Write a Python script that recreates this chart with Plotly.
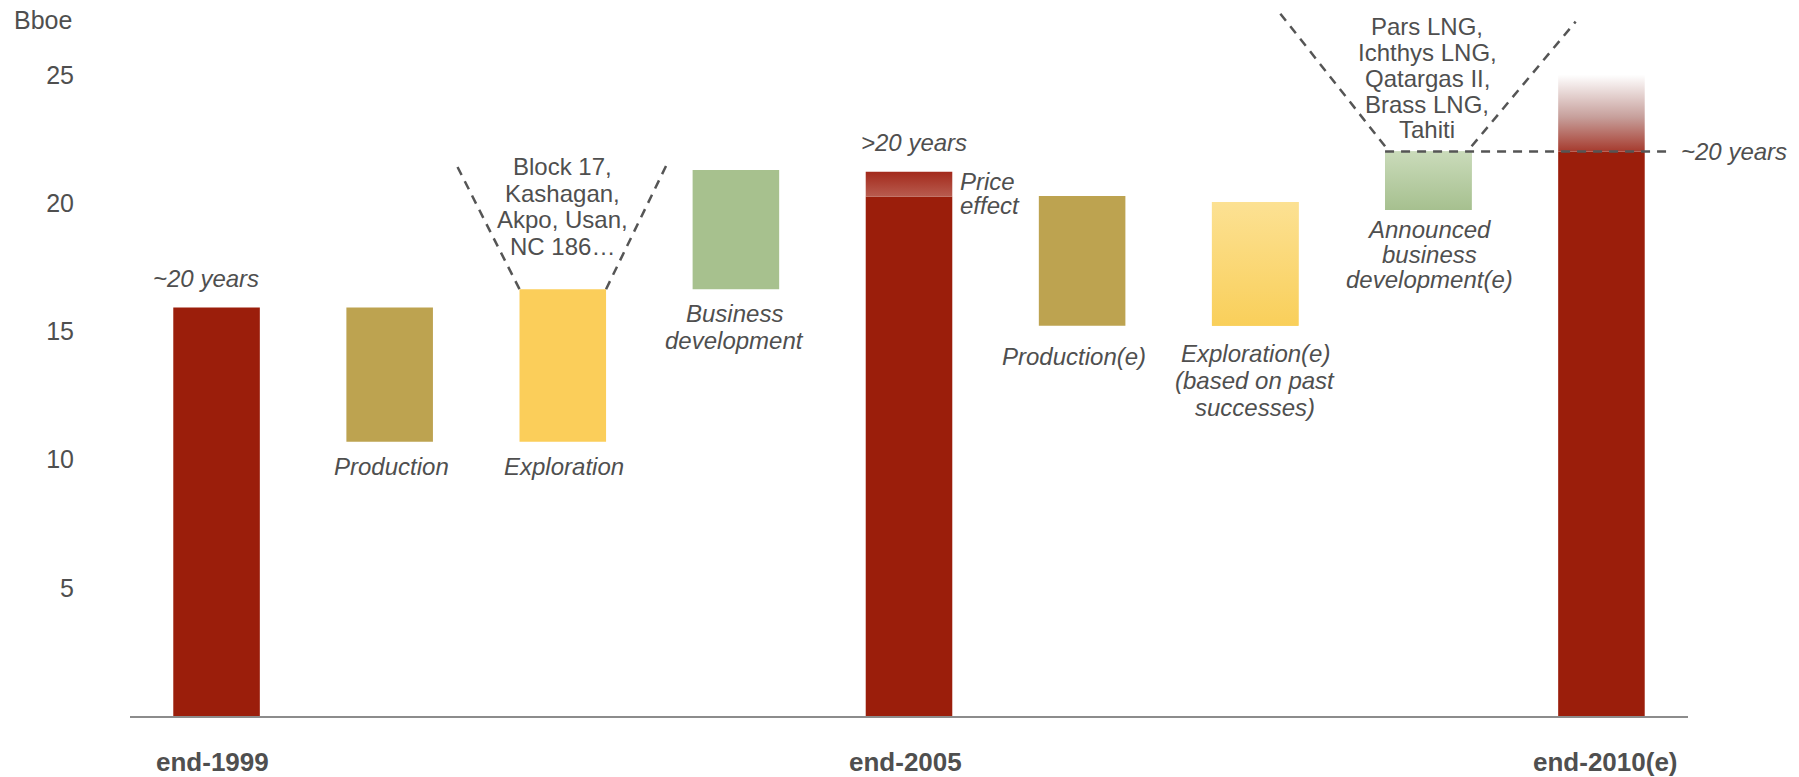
import plotly.graph_objects as go

# ---------------- data ----------------
categories = ["end-1999", "Production", "Exploration", "Business development",
              "end-2005", "Production(e)", "Exploration(e)",
              "Announced business development(e)", "end-2010(e)"]
bar_low = [0, 10.69, 10.69, 16.64, 0, 15.21, 15.21, 19.73, 0]
bar_high = [15.93, 15.93, 16.64, 21.29, 20.25, 20.27, 20.04, 22.01, 22.01]
price_effect = [20.25, 21.22]      # top band of end-2005
upside_2010 = [22.01, 25.0]        # faded top of end-2010(e)
y_ticks = [5, 10, 15, 20, 25]
x_labels = {0: "end-1999", 4: "end-2005", 8: "end-2010(e)"}

# ---------------- style ----------------
RED = "#9b1e0b"
OLIVE = "#bda350"
YELLOW = "#fbce5a"
GREEN = "#a7c18e"
TXT = "#4f4f4f"
FONT = "Arial, Liberation Sans, sans-serif"
BAR_W = 0.5
colors = [RED, OLIVE, YELLOW, GREEN, RED, OLIVE, "#f9cf5a", "#a6c08f", RED]

fig = go.Figure()
xs = list(range(len(categories)))
fig.add_trace(go.Bar(
    x=xs, y=[h - l for h, l in zip(bar_high, bar_low)], base=bar_low,
    width=BAR_W, marker=dict(color=colors, line=dict(width=0)),
    hoverinfo="skip", showlegend=False))


def grad_rect(i, lo, hi, scale):
    x0, x1 = i - BAR_W / 2, i + BAR_W / 2
    fig.add_trace(go.Scatter(
        x=[x0, x1, x1, x0, x0], y=[lo, lo, hi, hi, lo],
        mode="lines", line=dict(width=0), fill="toself",
        fillcolor=scale[0][1],
        fillgradient=dict(type="vertical", colorscale=scale, start=lo, stop=hi),
        hoverinfo="skip", showlegend=False))


grad_rect(4, price_effect[0], price_effect[1], [[0, "#b85c4f"], [1, "#a3291b"]])
grad_rect(6, bar_low[6], bar_high[6], [[0, "#f9cf5a"], [1, "#fce193"]])
grad_rect(7, bar_low[7], bar_high[7], [[0, "#a6c08f"], [1, "#cadbba"]])
grad_rect(8, upside_2010[0], upside_2010[1],
          [[0, "#a63b2e"], [0.45, "#c7a09c"], [1, "#ffffff"]])

# ---------------- dashed guides ----------------
DASH = dict(color="#555555", width=2.5, dash="9px,7px")


def seg(x0, y0, x1, y1):
    fig.add_shape(type="line", xref="x", yref="y", x0=x0, y0=y0, x1=x1, y1=y1,
                  line=DASH, layer="above")


# funnel above Exploration
seg(2 - BAR_W / 2, bar_high[2], 2 - BAR_W / 2 - 0.369, bar_high[2] + 4.91)
seg(2 + BAR_W / 2, bar_high[2], 2 + BAR_W / 2 + 0.357, bar_high[2] + 4.95)
# funnel above Announced business development
seg(7 - BAR_W / 2, bar_high[7] + 0.2, 7 - BAR_W / 2 - 0.62, bar_high[7] + 5.5)
seg(7 + BAR_W / 2, bar_high[7] + 0.2, 7 + BAR_W / 2 + 0.601, bar_high[7] + 5.06)
# ~20 years horizontal
seg(7 - BAR_W / 2, bar_high[7], 8.383, bar_high[7])


# ---------------- labels ----------------
def label(lines, x, y, shift0, step=26, anchor="center", italic=True,
          size=24, xshift=0, bold=False):
    for k, t in enumerate(lines):
        txt = t
        if italic:
            txt = f"<i>{txt}</i>"
        if bold:
            txt = f"<b>{txt}</b>"
        fig.add_annotation(x=x, y=y, xref="x", yref="y", text=txt,
                           showarrow=False, xanchor=anchor, yanchor="middle",
                           yshift=shift0 - k * step, xshift=xshift,
                           font=dict(family=FONT, size=size, color=TXT))


label(["~20 years"], 0, bar_high[0], 28.5, xshift=-11)
label(["Production"], 1, bar_low[1], -25, xshift=2)
label(["Exploration"], 2, bar_low[2], -25, xshift=1)
label(["Business", "development"], 3, bar_low[3], -24, step=27.6, xshift=-1)
label([">20 years"], 4, price_effect[1], 29, xshift=4.5)
label(["Price", "effect"], 4 + BAR_W / 2, price_effect[1], -10, step=23.3,
      anchor="left", xshift=6)
label(["Production(e)"], 5, bar_low[5], -31, xshift=-8)
label(["Exploration(e)", "(based on past", "successes)"], 6, bar_low[6], -28,
      step=27)
label(["Announced", "business", "development(e)"], 7, bar_low[7], -20,
      step=25, xshift=1)
label(["Block 17,", "Kashagan,", "Akpo, Usan,", "NC 186…"], 2, bar_high[2],
      122.4, step=26.6, italic=False)
label(["Pars LNG,", "Ichthys LNG,", "Qatargas II,", "Brass LNG,", "Tahiti"], 7,
      bar_high[7], 124.7, step=25.8, italic=False, xshift=-1)
label(["~20 years"], 8.383, bar_high[8], -0.5, anchor="left", xshift=11)

for i, t in x_labels.items():
    label([t], i, 0, -45.7, italic=False, bold=True, size=26,
          xshift={0: -4, 4: -4, 8: 4}[i])

fig.add_annotation(xref="paper", yref="paper", x=0, y=1, xanchor="right",
                   yanchor="middle", xshift=-56.5, yshift=-20, text="Bboe",
                   showarrow=False, font=dict(family=FONT, size=25, color=TXT))

# ---------------- layout ----------------
fig.update_layout(
    width=1799, height=777,
    margin=dict(l=130, r=111, t=0, b=61, pad=0),
    plot_bgcolor="white", paper_bgcolor="white",
    showlegend=False, hovermode=False,
    xaxis=dict(range=[-0.5, 8.5], showgrid=False, zeroline=False,
               showticklabels=False, ticks="", showline=True,
               linecolor="#8c8c8c", linewidth=1.5, fixedrange=True),
    yaxis=dict(range=[0, 716 / 25.65], showgrid=False, zeroline=False,
               showline=False, tickvals=y_ticks, ticks="",
               ticklabelstandoff=55,
               tickfont=dict(family=FONT, size=25, color=TXT),
               fixedrange=True),
)

fig.write_html("out.html", config={"displayModeBar": False})
